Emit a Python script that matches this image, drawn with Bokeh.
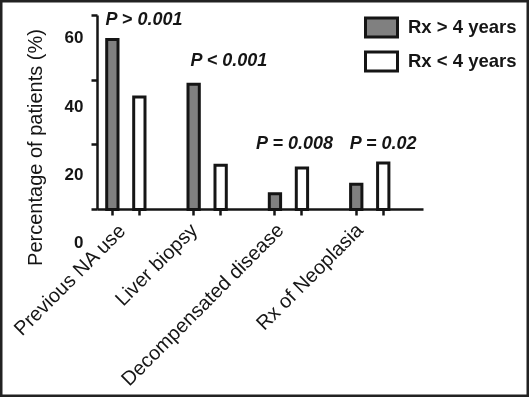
import math
from bokeh.plotting import figure
from bokeh.models import (Range1d, LinearAxis, FixedTicker, Label,
                          Legend, LegendItem)
from bokeh.core.properties import value
from bokeh.embed import file_html
from bokeh.resources import INLINE

# ---------------- data ----------------
categories = ["Previous NA use", "Liver biopsy", "Decompensated disease", "Rx of Neoplasia"]
series_names = ["Rx > 4 years", "Rx < 4 years"]
rx_over_4 = [52.6, 38.7, 4.9, 7.8]       # bar heights, Rx > 4 years
rx_under_4 = [34.8, 13.7, 12.8, 14.4]    # bar heights, Rx < 4 years
p_labels = ["P > 0.001", "P < 0.001", "P = 0.008", "P = 0.02"]
y_tick_values = [0, 20, 40, 60]
y_tick_labels = ["0", "20", "40", "60"]

# ---------------- layout (positions / styles) ----------------
W, H = 529, 397
PX_X = 81.3                 # pixels per category step
X0_PX = 125.35              # pixel of first category centre
AX_Y_PX, PX_Y = 209.0, 3.2333   # y-axis: zero pixel, pixels per unit
LAB0_PX, PX_LAB = 241.5, 3.41   # printed tick labels sit on their own (shifted) scale
dodge = 0.166
bar_w = 0.139
p_label_dx = [-0.25, -0.205, -0.398, -0.246]
p_label_y = [58.8, 46.1, 20.6, 20.6]
cat_label_dx_px = [10, 0, 5, 3]

FONT = "Liberation Sans"
INK = "#151515"

def xr(px):
    return (px - X0_PX) / PX_X

idx = list(range(len(categories)))
x_gray = [i - dodge for i in idx]
x_white = [i + dodge for i in idx]
x_lab = [g + d / PX_X for g, d in zip(x_gray, cat_label_dx_px)]

x_range = Range1d(xr(0), xr(W))
y_range = Range1d((AX_Y_PX - H) / PX_Y, AX_Y_PX / PX_Y)

p = figure(width=W, height=H, output_backend="svg", toolbar_location=None,
           x_range=x_range, y_range=y_range,
           x_axis_location=None, y_axis_location=None,
           min_border=0, min_border_left=0, min_border_right=0,
           min_border_top=0, min_border_bottom=0)
p.styles = {"position": "fixed", "left": "0px", "top": "0px"}
p.outline_line_color = "#222222"
p.outline_line_width = 4
p.xgrid.visible = False
p.ygrid.visible = False
p.background_fill_color = "white"
p.border_fill_color = "white"

x_left, x_right = xr(97), xr(423)

def style_axis(ax):
    ax.axis_line_width = 2.5
    ax.axis_line_color = INK
    ax.major_tick_line_width = 2.5
    ax.major_tick_line_color = INK
    ax.major_tick_out = 6
    ax.major_tick_in = 0
    ax.minor_tick_line_width = 2.5
    ax.minor_tick_line_color = INK
    ax.minor_tick_out = 6
    ax.minor_tick_in = 0

# y axis with tick marks (labels printed separately below)
yax = LinearAxis(ticker=FixedTicker(ticks=y_tick_values), bounds=(0, 60),
                 fixed_location=x_left,
                 major_label_overrides={v: "" for v in y_tick_values})
style_axis(yax)
yax.minor_tick_line_color = None
p.add_layout(yax, "left")

# printed y tick labels (shifted scale as in the original figure)
p.extra_y_ranges = {"labels": Range1d((LAB0_PX - H) / PX_LAB, LAB0_PX / PX_LAB)}
ylab = LinearAxis(y_range_name="labels", ticker=FixedTicker(ticks=y_tick_values),
                  fixed_location=xr(83),
                  major_label_overrides={v: t for v, t in zip(y_tick_values, y_tick_labels)})
ylab.axis_line_color = None
ylab.major_tick_line_color = None
ylab.minor_tick_line_color = None
ylab.major_tick_out = 0
ylab.major_label_standoff = 0
ylab.major_label_text_font = FONT
ylab.major_label_text_font_style = "bold"
ylab.major_label_text_font_size = "17px"
ylab.major_label_text_color = INK
p.add_layout(ylab, "left")

# x axis with tick marks
xax = LinearAxis(ticker=FixedTicker(ticks=x_gray, minor_ticks=x_white),
                 bounds=(x_left, x_right), fixed_location=0,
                 major_label_overrides={v: "" for v in x_gray})
style_axis(xax)
p.add_layout(xax, "below")

# x category labels
xlab = LinearAxis(ticker=FixedTicker(ticks=x_lab), fixed_location=0,
                  major_label_overrides={v: c for v, c in zip(x_lab, categories)})
xlab.axis_line_color = None
xlab.major_tick_line_color = None
xlab.minor_tick_line_color = None
xlab.major_tick_out = 0
xlab.major_label_standoff = 17
xlab.major_label_orientation = math.pi / 4
xlab.major_label_text_font = FONT
xlab.major_label_text_font_size = "20px"
xlab.major_label_text_color = INK
p.add_layout(xlab, "below")

# bars
r1 = p.vbar(x=x_gray, top=rx_over_4, bottom=0, width=bar_w,
            fill_color="#808080", line_color=INK, line_width=3, line_join="miter")
r2 = p.vbar(x=x_white, top=rx_under_4, bottom=0, width=bar_w,
            fill_color="white", line_color=INK, line_width=3, line_join="miter")

# p-value annotations
p.text(x=[i + d for i, d in zip(idx, p_label_dx)], y=p_label_y, text=p_labels,
       text_font=value(FONT), text_font_style="bold italic", text_font_size="18px",
       text_color=INK, text_align="left", text_baseline="middle")

# y axis title
p.add_layout(Label(x=xr(34), y=(AX_Y_PX - 147) / PX_Y, text="Percentage of patients (%)",
                   angle=math.pi / 2, text_font=FONT, text_font_size="20px",
                   text_color=INK, text_align="center", text_baseline="alphabetic"))

legend = Legend(items=[LegendItem(label=series_names[0], renderers=[r1]),
                       LegendItem(label=series_names[1], renderers=[r2])],
                location=(361, 324), orientation="vertical",
                glyph_width=40, glyph_height=24, spacing=10, label_standoff=7,
                label_height=24, padding=0, margin=0,
                border_line_alpha=0, background_fill_alpha=0,
                label_text_font=FONT, label_text_font_size="18.5px",
                label_text_font_style="bold", label_text_color=INK)
p.add_layout(legend)

open("out.html", "w").write(file_html(p, INLINE))
